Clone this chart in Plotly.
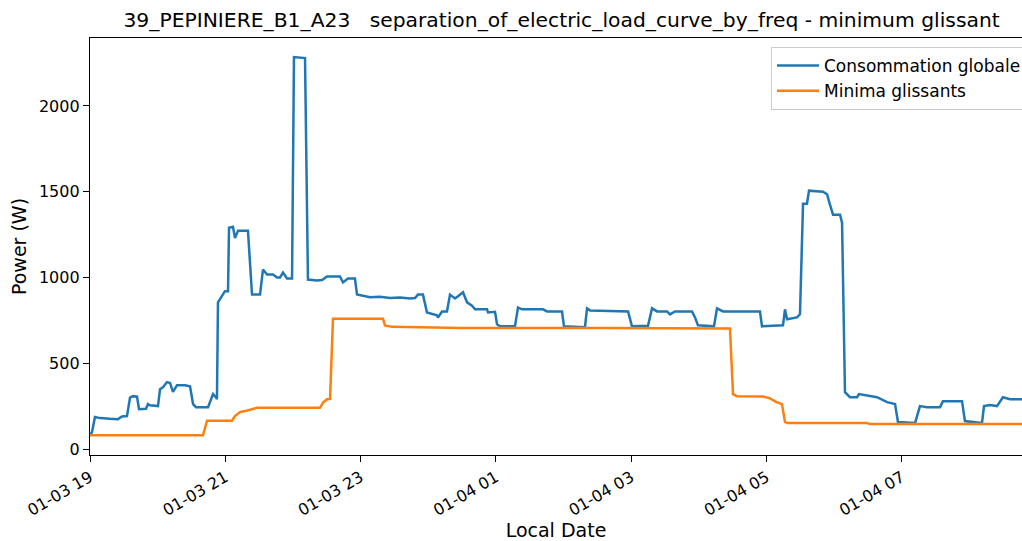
import pandas as pd
import plotly.graph_objects as go

DEBUT = pd.Timestamp('2021-01-03 19:00')

# Consommation globale : minutes depuis 19h00 et puissance (W)
conso_minutes = [0, 1.8, 4.4, 8.9, 17.7, 24.8, 28.4, 32.8, 35.5, 38.1, 41.7, 43.5, 49.7, 51.4,
                 53.2, 60.3, 62.1, 64.7, 68.3, 71, 73.6, 77.2, 84.3, 88.7, 91.4, 94, 104.7, 109.1,
                 111.8, 112.6, 113.5, 117.1, 119.7, 122.4, 123.3, 126.8, 128.6, 131.3, 140.1, 143.7,
                 150.8, 153.4, 157, 162.3, 165.8, 168.5, 171.2, 174.7, 179.2, 180.9, 190.7, 193.3,
                 201.3, 205.8, 210.2, 221.7, 224.4, 228.8, 235, 236.8, 243.9, 248.3, 257.2, 266.1,
                 275, 283.8, 288.2, 290.9, 295.3, 298.9, 307.7, 308.6, 312.2, 316.6, 319.3, 323.7,
                 326.4, 330.8, 334.4, 338.8, 341.5, 352.1, 353, 359.2, 361, 363.6, 376.9, 379.6,
                 383.1, 401.8, 405.3, 418.6, 420.4, 439, 440.8, 443.5, 477.2, 480.7, 494.9, 498.5,
                 502.9, 511.8, 514.4, 518.8, 533.9, 536.6, 539.2, 553.4, 556.1, 561.4, 594.2, 596,
                 614.6, 616.4, 618.2, 627, 629.7, 632.4, 635.9, 637.7, 650.1, 653.7, 656.3, 659,
                 665.2, 667, 669.6, 674, 680.3, 682, 698, 701.5, 705.1, 706.9, 714, 716.6, 731.7,
                 736.1, 742.3, 753.9, 756.5, 773.4, 776, 791.1, 792.9, 798.2, 804.4, 809.7, 815.9,
                 826.6, 838.1]
conso_watts = [80, 99, 186, 180, 176, 174, 190, 192, 300, 308, 305, 232, 235, 262,
               255, 250, 349, 360, 390, 385, 333, 372, 372, 365, 262, 244, 244, 320,
               300, 290, 855, 890, 920, 920, 1290, 1295, 1230, 1273, 1273, 900,
               900, 1046, 1017, 1017, 1000, 1000, 1029, 994, 994, 2285, 2279, 988,
               982, 985, 1006, 1006, 971, 994, 994, 901, 890, 885, 887, 880,
               883, 878, 880, 900, 900, 796, 780, 767, 802, 802, 900, 878,
               890, 913, 855, 835, 814, 814, 796, 800, 727, 715, 715, 825,
               814, 814, 802, 802, 715, 710, 820, 808, 802, 715, 718, 820,
               802, 802, 785, 802, 802, 767, 721, 715, 820, 802, 802, 715,
               721, 814, 756, 767, 785, 1430, 1430, 1506, 1500, 1485, 1424, 1366,
               1366, 1320, 331, 302, 302, 320, 302, 290, 279, 273, 262, 157, 151,
               250, 244, 244, 279, 279, 163, 151, 250, 256, 250, 302, 290,
               290, 285]

# Minima glissants
minima_minutes = [0, 100.2, 103.8, 125.9, 128.6, 133, 137.5, 141.9, 148.1, 204, 206.7, 210.2,
                  212.9, 215.5, 259.9, 261.6, 267.8, 292.7, 328.2, 452.3, 567.6, 570.3, 573.8,
                  596.9, 603.1, 608.4, 613.7, 616.4, 619, 689.1, 691.8, 838.1]
minima_watts = [80, 80, 165, 165, 192, 215, 221, 230, 240, 240, 270, 290,
                292, 760, 760, 720, 712, 710, 705, 705, 703, 320, 308,
                306, 295, 275, 262, 157, 151, 151, 145, 145]

t_conso = DEBUT + pd.to_timedelta(conso_minutes, unit='min')
t_minima = DEBUT + pd.to_timedelta(minima_minutes, unit='min')

POLICE = 'DejaVu Sans'

fig = go.Figure()
fig.add_trace(go.Scatter(x=t_conso, y=conso_watts, mode='lines', name='Consommation globale',
                         line=dict(color='#1f77b4', width=2.5)))
fig.add_trace(go.Scatter(x=t_minima, y=minima_watts, mode='lines', name='Minima glissants',
                         line=dict(color='#ff7f0e', width=2.5)))

fig.update_layout(
    width=1022, height=541,
    margin=dict(l=90, r=0, t=38, b=86, autoexpand=False),
    paper_bgcolor='white', plot_bgcolor='white',
    font=dict(family=POLICE, size=16, color='black'),
    title=dict(text='39_PEPINIERE_B1_A23   separation_of_electric_load_curve_by_freq - minimum glissant',
               x=0.506, xref='paper', xanchor='center', y=1 - 20 / 541, yref='container',
               yanchor='middle', font=dict(family=POLICE, size=20.3, color='black')),
    legend=dict(x=(771 - 90) / 932, y=(455 - 47) / 417, xanchor='left', yanchor='top',
                bgcolor='rgba(255,255,255,0.8)', bordercolor='#cccccc', borderwidth=1,
                itemwidth=42, font=dict(family=POLICE, size=17)),
    showlegend=True,
)
fig.update_xaxes(
    range=[DEBUT, DEBUT + pd.Timedelta(minutes=826.6)],
    tick0=DEBUT, dtick=2 * 3600 * 1000, tickformat='%m-%d %H', tickangle=-30,
    ticks='outside', ticklen=6, tickcolor='black', showgrid=False, zeroline=False,
    showline=True, linecolor='black', linewidth=1.3, mirror=True,
    title=dict(text='Local Date', standoff=18), automargin=False,
)
fig.update_yaxes(
    range=[-35, 2396], tickvals=[0, 500, 1000, 1500, 2000],
    ticks='outside', ticklen=6, tickcolor='black', showgrid=False, zeroline=False,
    showline=True, linecolor='black', linewidth=1.3,
    title=dict(text='Power (W)', standoff=7), automargin=False,
)

# pas de marge de page ni de barre de defilement
fig.write_html('out.html', config={'displayModeBar': False},
               post_script="document.body.style.margin='0';document.body.style.overflow='hidden';")
